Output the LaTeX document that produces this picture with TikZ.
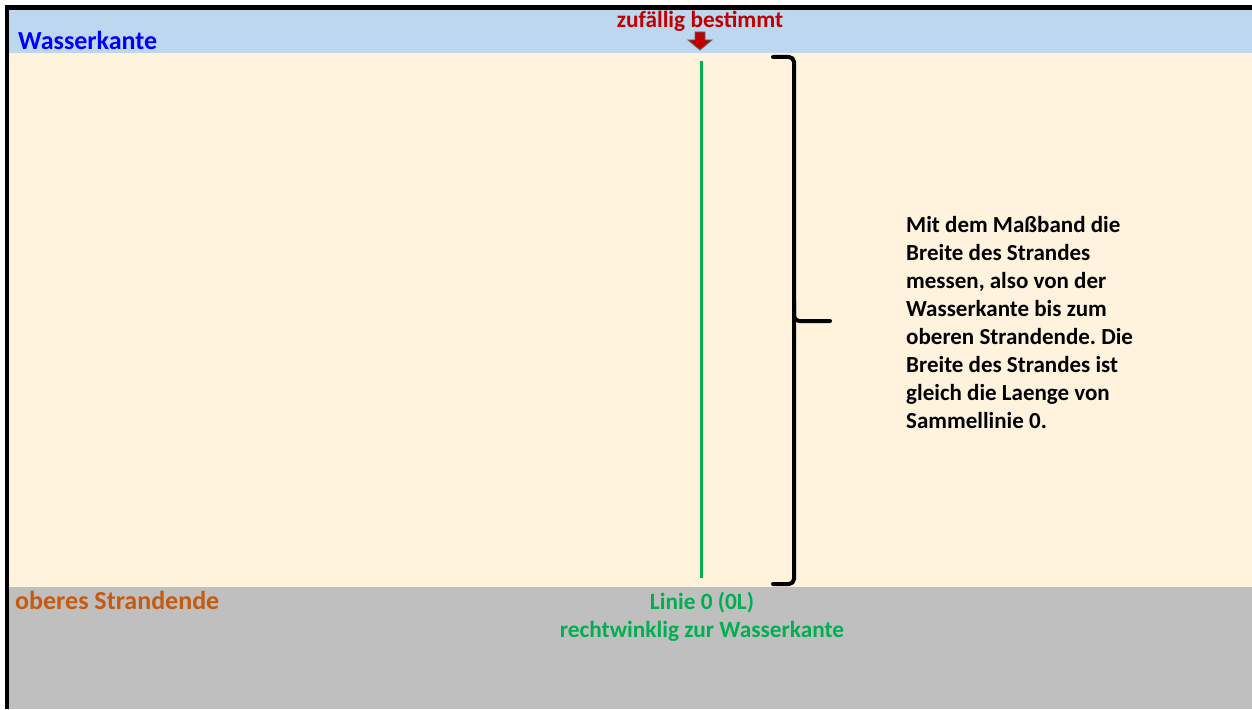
\documentclass[tikz,border=0pt]{standalone}
\usepackage{fontspec}
\setmainfont{Carlito}
\frenchspacing
\definecolor{sea}{HTML}{BDD7EE}
\definecolor{sand}{HTML}{FFF3DD}
\definecolor{dune}{HTML}{BFBFBF}
\definecolor{linegreen}{HTML}{00B050}
\definecolor{darkred}{HTML}{C00000}
\definecolor{orangetxt}{HTML}{C55A11}
\definecolor{pureblue}{HTML}{0000FF}
\tikzset{
  lbl/.style={inner sep=0pt, font=\bfseries\fontsize{26}{30}\selectfont},
  small/.style={inner sep=0pt, font=\bfseries\fontsize{23.3}{28}\selectfont},
  bracepen/.style={line width=4pt, line cap=round, line join=round, rounded corners=5pt},
}
\begin{document}
\begin{tikzpicture}[x=1pt,y=-1pt]
\useasboundingbox (0,0) rectangle (1252,709);
\fill[sea] (7,7) rectangle (1252,53);
\fill[sand] (7,53) rectangle (1252,587);
\fill[dune] (7,587) rectangle (1252,709);
\draw[line width=4.5pt] (1252,7.5) -- (7,7.5) -- (7,709);

\node[lbl, text=pureblue, anchor=base west] (wk) at (18,49) {Wasserkante};
\node[small, text=darkred, anchor=base] (zb) at (700,28) {zufällig bestimmt};
\filldraw[fill=darkred, draw=black!60, line width=0.8pt, line join=miter]
  (695,32) -- (705,32) -- (705,40) -- (712,40) -- (700,50) -- (688,40) -- (695,40) -- cycle;
\coordinate (gtop) at (701,61);
\coordinate (gbot) at (701,578);
\draw[linegreen, line width=3pt] (gtop) -- (gbot);

\coordinate (btop) at (773,57);
\coordinate (btip) at (830,321);
\coordinate (bbot) at (773,584);
\draw[bracepen] (btop) -- (794,57) -- (794,321) -- (btip);
\draw[bracepen] (794,300) -- (794,584) -- (bbot);

\node[inner sep=0pt, anchor=north west, align=left, font=\bfseries\fontsize{23}{28}\selectfont] (txt) at (906,216)
  {Mit dem Maßband die\\Breite des Strandes\\messen, also von der\\Wasserkante bis zum\\oberen Strandende. Die\\Breite des Strandes ist\\gleich die Laenge von\\Sammellinie 0.};

\node[lbl, text=orangetxt, anchor=base west] (os) at (15,609) {oberes Strandende};
\node[small, text=linegreen, anchor=base] (l0) at (702,609) {Linie 0 (0L)};
\node[small, text=linegreen, anchor=base] (rw) at (702,637) {rechtwinklig zur Wasserkante};
\end{tikzpicture}
\end{document}
